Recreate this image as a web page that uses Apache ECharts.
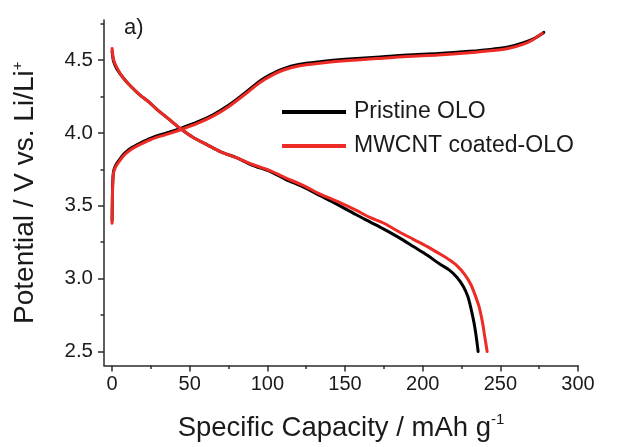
<!DOCTYPE html>
<html>
<head>
<meta charset="utf-8">
<script src="https://cdn.jsdelivr.net/npm/echarts@6/dist/echarts.min.js"></script>
<style>html,body{margin:0;padding:0;background:#fff;}#c{width:619px;height:447px;}</style>
</head>
<body>
<div id="c"></div>
<script>
// ---- data ----
const seriesNames = ['Pristine OLO', 'MWCNT coated-OLO'];
const xTickLabels = [0, 50, 100, 150, 200, 250, 300];
const xMinorTicks = [25, 75, 125, 175, 225, 275];
const yTickLabels = [2.5, 3.0, 3.5, 4.0, 4.5];
const yMinorTicks = [2.75, 3.25, 3.75, 4.25, 4.75];

// Pristine OLO - charge
const pristineChargeX = [0, 0.3, 0.6, 1, 2, 3, 5, 8, 12, 18, 25, 35, 45, 55, 65, 75, 85, 95, 102, 110, 120, 135, 150, 170, 190, 210, 230, 245, 255, 265, 272, 278];
const pristineChargeV = [3.40, 3.62, 3.70, 3.74, 3.77, 3.79, 3.82, 3.86, 3.895, 3.93, 3.965, 4.00, 4.035, 4.075, 4.125, 4.19, 4.27, 4.355, 4.40, 4.44, 4.47, 4.49, 4.505, 4.52, 4.535, 4.545, 4.56, 4.575, 4.59, 4.62, 4.65, 4.69];
// Pristine OLO - discharge
const pristineDischargeX = [0, 0.5, 1, 3, 7, 12, 18, 24, 29, 36, 44, 52, 61, 70, 80, 90, 102, 112, 123, 134, 145, 157, 166, 175, 185, 194, 203, 211, 217, 222, 226, 229, 231, 233, 234.5, 235.7];
const pristineDischargeV = [4.56, 4.52, 4.49, 4.44, 4.38, 4.32, 4.26, 4.21, 4.16, 4.10, 4.03, 3.97, 3.92, 3.87, 3.83, 3.78, 3.735, 3.68, 3.63, 3.57, 3.51, 3.44, 3.39, 3.34, 3.28, 3.22, 3.16, 3.10, 3.06, 3.01, 2.95, 2.88, 2.80, 2.70, 2.60, 2.50];
// MWCNT coated-OLO - charge
const coatedChargeX = [0, 0.3, 0.6, 1, 2, 3, 5, 8, 12, 18, 25, 35, 45, 55, 65, 75, 85, 95, 102, 110, 120, 135, 150, 170, 190, 210, 230, 245, 255, 265, 271, 277];
const coatedChargeV = [3.38, 3.60, 3.69, 3.73, 3.76, 3.78, 3.81, 3.85, 3.885, 3.92, 3.955, 3.99, 4.025, 4.065, 4.115, 4.18, 4.26, 4.345, 4.39, 4.43, 4.46, 4.48, 4.495, 4.51, 4.525, 4.535, 4.55, 4.565, 4.58, 4.61, 4.64, 4.685];
// MWCNT coated-OLO - discharge
const coatedDischargeX = [0, 0.5, 1, 3, 7, 12, 18, 24, 29, 36, 44, 52, 61, 70, 80, 90, 102, 112, 123, 134, 145, 157, 166, 175, 185, 194, 203, 211, 217, 222, 227, 231, 234, 236.5, 238.5, 240, 241.5];
const coatedDischargeV = [4.58, 4.53, 4.50, 4.45, 4.38, 4.32, 4.26, 4.21, 4.16, 4.10, 4.03, 3.97, 3.92, 3.87, 3.83, 3.785, 3.74, 3.69, 3.64, 3.58, 3.53, 3.47, 3.42, 3.38, 3.32, 3.27, 3.22, 3.17, 3.13, 3.09, 3.03, 2.96, 2.88, 2.80, 2.70, 2.60, 2.50];

const zip = (xs, ys) => xs.map((x, i) => [x, ys[i]]);

const FONT = '"Liberation Sans", Arial, sans-serif';
const TXT = '#1a1a1a';
const AX = '#2b2b2b';

const chart = echarts.init(document.getElementById('c'), null, {renderer: 'canvas'});

const xBase = {
  type: 'value', min: -5.2, max: 300, gridIndex: 0,
  splitLine: {show: false}
};
const yBase = {
  type: 'value', min: 2.404, max: 4.775, gridIndex: 0,
  splitLine: {show: false}
};

const mk = (name, data, color, z) => ({
  name, type: 'line', data, showSymbol: false, symbol: 'none',
  lineStyle: {color, width: 3, join: 'round', cap: 'round'}, itemStyle: {color}, z,
  smooth: 0.3,
  xAxisIndex: 0, yAxisIndex: 0, animation: false
});

chart.setOption({
  animation: false,
  backgroundColor: '#fff',
  grid: {left: 104, right: 41, top: 20, bottom: 81, containLabel: false},
  legend: {
    data: seriesNames,
    orient: 'vertical',
    left: 277, top: 95,
    itemWidth: 64, itemHeight: 4, itemGap: 10,
    icon: 'rect',
    textStyle: {fontFamily: FONT, fontSize: 23, color: TXT, lineHeight: 24, padding: [0, 0, 0, 3]}
  },
  xAxis: [
    Object.assign({}, xBase, {
      position: 'bottom',
      axisLine: {show: true, onZero: false, lineStyle: {color: AX, width: 1.5}},
      axisTick: {show: true, inside: false, length: 6, lineStyle: {color: AX, width: 1.5}, customValues: xTickLabels},
      axisLabel: {show: true, margin: 9, fontFamily: FONT, fontSize: 20, color: TXT, customValues: xTickLabels},
      name: '{a|Specific Capacity / mAh g}{s|-1}',
      nameLocation: 'middle', nameGap: 47,
      nameTextStyle: {
        fontFamily: FONT, color: TXT,
        rich: {
          a: {fontFamily: FONT, fontSize: 27.5, color: TXT, lineHeight: 31},
          s: {fontFamily: FONT, fontSize: 15, color: TXT, verticalAlign: 'top', lineHeight: 15}
        }
      }
    }),
    Object.assign({}, xBase, {
      position: 'bottom',
      axisLine: {show: false, onZero: false},
      axisTick: {show: true, inside: false, length: 3.5, lineStyle: {color: AX, width: 1.5}, customValues: xMinorTicks},
      axisLabel: {show: false}
    })
  ],
  yAxis: [
    Object.assign({}, yBase, {
      position: 'left',
      axisLine: {show: true, onZero: false, lineStyle: {color: AX, width: 1.5}},
      axisTick: {show: true, inside: false, length: 6, lineStyle: {color: AX, width: 1.5}, customValues: yTickLabels},
      axisLabel: {show: true, margin: 11, fontFamily: FONT, fontSize: 20.5, color: TXT, customValues: yTickLabels,
        formatter: v => v.toFixed(1)},
      name: '{a|Potential / V vs. Li/Li}{s|+}',
      nameLocation: 'middle', nameGap: 63, nameRotate: 90,
      nameTextStyle: {
        fontFamily: FONT, color: TXT,
        rich: {
          a: {fontFamily: FONT, fontSize: 28, color: TXT, lineHeight: 31},
          s: {fontFamily: FONT, fontSize: 15, color: TXT, verticalAlign: 'top', lineHeight: 15}
        }
      }
    }),
    Object.assign({}, yBase, {
      position: 'left',
      axisLine: {show: false, onZero: false},
      axisTick: {show: true, inside: false, length: 3.5, lineStyle: {color: AX, width: 1.5}, customValues: yMinorTicks},
      axisLabel: {show: false}
    })
  ],
  graphic: [{
    type: 'text', left: 124, top: 17,
    style: {text: 'a)', fontFamily: FONT, fontSize: 22, fill: TXT}
  }],
  series: [
    mk(seriesNames[0], zip(pristineChargeX, pristineChargeV), '#000000', 2),
    mk(seriesNames[0], zip(pristineDischargeX, pristineDischargeV), '#000000', 2),
    mk(seriesNames[1], zip(coatedChargeX, coatedChargeV), '#ee2a24', 3),
    mk(seriesNames[1], zip(coatedDischargeX, coatedDischargeV), '#ee2a24', 3)
  ]
});
</script>
</body>
</html>
